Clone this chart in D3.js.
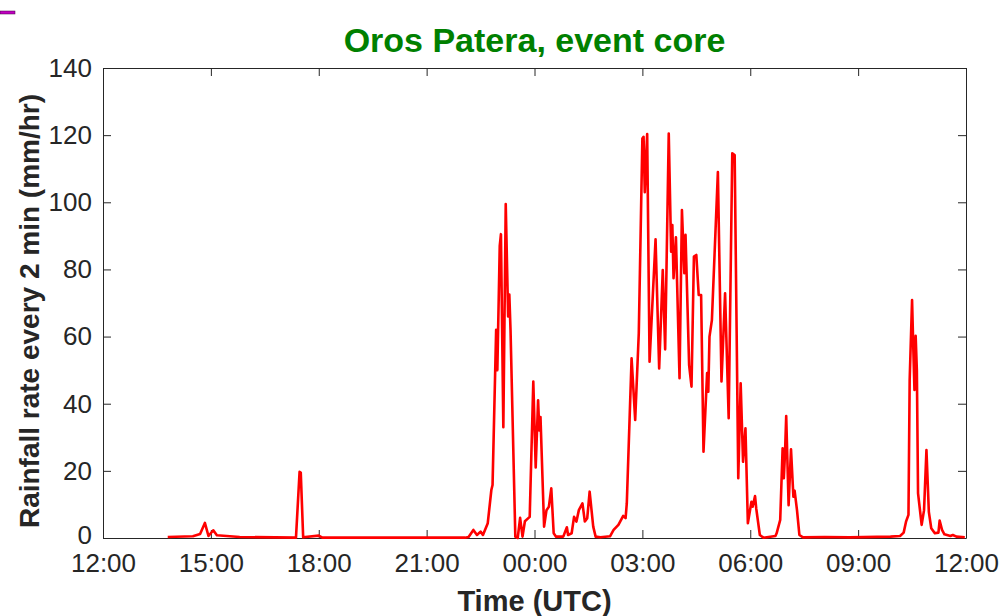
<!DOCTYPE html>
<html>
<head>
<meta charset="utf-8">
<script src="https://cdn.jsdelivr.net/npm/d3@7"></script>
<style>
  body { margin: 0; background: #fff; }
  svg { display: block; font-family: "Liberation Sans", Arial, Helvetica, sans-serif; }
</style>
</head>
<body>
<div id="chart"></div>
<script>
// 2-min rainfall rate (UTC clock times, 12:00 -> 12:00 next day)
var times = [
  "13:48", "14:30", "14:42", "14:50", "14:56", "15:04", "15:10", "15:48",
  "17:22", "17:28", "17:30", "17:34", "18:00", "18:06",
  "22:04", "22:10", "22:18", "22:24", "22:30", "22:34", "22:42", "22:48", "22:50",
  "22:56", "22:58", "23:02", "23:04", "23:08", "23:12", "23:16", "23:18", "23:20",
  "23:28", "23:32", "23:36", "23:40", "23:44", "23:52", "23:58",
  "00:02", "00:06", "00:08", "00:10", "00:16", "00:20", "00:24", "00:28", "00:32",
  "00:36", "00:48", "00:54", "00:56", "01:02", "01:06", "01:10", "01:14", "01:20",
  "01:24", "01:28", "01:32", "01:38", "01:42", "01:50",
  "02:06", "02:12", "02:20", "02:28", "02:32", "02:34", "02:42", "02:48", "02:54",
  "03:00", "03:02", "03:04", "03:08", "03:12", "03:22", "03:28", "03:34", "03:38",
  "03:44", "03:48", "03:50", "03:52", "03:56", "04:02", "04:06", "04:10", "04:12",
  "04:18", "04:22", "04:26", "04:30", "04:34", "04:38", "04:42", "04:48", "04:50",
  "04:52", "04:56", "05:06", "05:12", "05:18", "05:24", "05:30", "05:34", "05:40",
  "05:44", "05:48", "05:52", "05:56", "06:02", "06:04", "06:08", "06:10", "06:16",
  "06:22", "06:42", "06:44", "06:50", "06:54", "06:56", "06:58", "07:00", "07:04",
  "07:08", "07:12", "07:14", "07:18", "07:22", "07:28", "08:04", "08:46",
  "09:54", "10:10", "10:16", "10:20", "10:24", "10:26", "10:30", "10:32", "10:34",
  "10:36", "10:38", "10:40", "10:46", "10:50", "10:54", "10:58", "11:02", "11:08",
  "11:14", "11:16", "11:20", "11:24", "11:34", "11:38", "11:44", "11:58"
]
var rate = [
  0.3, 0.5, 1.2, 4.5, 0.6, 2.3, 0.8, 0.3,
  0.1, 19.7, 19.5, 0.2, 0.7, 0.1,
  0.1, 0.3, 2.4, 0.9, 1.9, 0.9, 4.4, 14.3, 15.8,
  62, 50, 87, 90.5, 33, 99.5, 66, 72.5, 62,
  0.4, 0, 6, 0.4, 5, 6.3, 46.6,
  21, 41, 32, 36, 3.4, 8.3, 9.3, 14.8, 1.4,
  0.4, 0.4, 3.2, 0.9, 1.4, 6.3, 4.9, 8.3, 10.3,
  4.9, 5.9, 13.8, 3.4, 0.4, 0.2,
  0.5, 2.4, 3.9, 6.6, 5.9, 10.3, 53.5, 35.2, 61,
  119, 119.5, 103, 120.3, 52.5, 89, 50.5, 79.8, 56.2,
  120.5, 85.3, 93.2, 77.4, 89.6, 47.6, 97.7, 78.9, 90.3,
  51.5, 45.1, 83.8, 84.3, 72.4, 72.4, 25.7, 49.1, 43.6,
  60, 64.9, 109, 46.6, 72.9, 35.7, 114.6, 114.1, 17.8,
  46.1, 22.7, 32.7, 4.4, 10.8, 9.3, 12.5, 8.8, 0.9,
  0.1, 0.6, 1.4, 5.4, 26.7, 17.8, 25.2, 36.3, 9.8,
  26.4, 12.3, 14.1, 8.3, 0.9, 0.2, 0.3, 0.2,
  0.4, 0.6, 1.6, 4.9, 6.9, 47, 70.9, 57, 44.1,
  60.2, 50, 13.3, 3.9, 8.3, 26.2, 7.8, 2.9, 1.4,
  1.6, 5.2, 2.4, 1.1, 0.6, 0.9, 0.4, 0.2
]
var yTicks = [0, 20, 40, 60, 80, 100, 120, 140]
var titleText = "Oros Patera, event core"
var xLabel = "Time (UTC)"
var yLabel = "Rainfall rate every 2 min (mm/hr)"

var width = 1004, height = 616
var margin = {top: 68, right: 38, bottom: 78, left: 103}
var axisColor = "#262626"

// clock string -> Date; hours before noon belong to the next day
function to_date(s) {
  var h = +s.slice(0, 2), m = +s.slice(3, 5)
  return new Date(Date.UTC(2000, 0, h < 12 ? 2 : 1, h, m))
}

function draw() {
  var data = times.map(function(t, i) { return {t: to_date(t), v: rate[i]} })

  var svg = d3.select("#chart").append("svg")
    .attr("width", width).attr("height", height)

  var x = d3.scaleUtc()
    .domain([new Date(Date.UTC(2000, 0, 1, 12)), new Date(Date.UTC(2000, 0, 2, 12))])
    .range([margin.left, width - margin.right])
  var y = d3.scaleLinear()
    .domain([0, 140])
    .range([height - margin.bottom, margin.top])

  var xTicks = d3.utcHour.every(3).range(x.domain()[0], new Date(+x.domain()[1] + 1))
  var fmt = d3.utcFormat("%H:%M")
  var tl = 8

  // box axes, ticks pointing inward on all four sides
  var bottom = svg.append("g")
    .attr("transform", "translate(0," + y(0) + ")")
    .call(d3.axisBottom(x).tickValues(xTicks).tickFormat(fmt).tickSizeInner(-tl).tickSizeOuter(0).tickPadding(16))
  var top = svg.append("g")
    .attr("transform", "translate(0," + y(140) + ")")
    .call(d3.axisTop(x).tickValues(xTicks).tickFormat("").tickSizeInner(-tl).tickSizeOuter(0))

  var left = svg.append("g")
    .attr("transform", "translate(" + x.range()[0] + ",0)")
    .call(d3.axisLeft(y).tickValues(yTicks).tickSizeInner(-tl).tickSizeOuter(0).tickPadding(11))
  var right = svg.append("g")
    .attr("transform", "translate(" + x.range()[1] + ",0)")
    .call(d3.axisRight(y).tickValues(yTicks).tickFormat("").tickSizeInner(-tl).tickSizeOuter(0))

  ;[bottom, top, left, right].forEach(function(g) {
    g.selectAll(".domain").attr("stroke", axisColor).attr("stroke-width", 1)
    g.selectAll(".tick line").attr("stroke", axisColor).attr("stroke-width", 1)
    g.selectAll(".tick text").attr("fill", axisColor).attr("font-size", 26)
  })
  // keep the "0" label clear of the first time label
  left.selectAll(".tick text").filter(function(d) { return d === 0 }).attr("dy", "0.2em")

  var line = d3.line()
    .x(function(d) { return x(d.t) })
    .y(function(d) { return y(d.v) })

  svg.append("path")
    .datum(data)
    .attr("fill", "none")
    .attr("stroke", "#ff0000")
    .attr("stroke-width", 2.6)
    .attr("stroke-linejoin", "round")
    .attr("d", line)

  svg.append("text")
    .attr("x", (x.range()[0] + x.range()[1]) / 2)
    .attr("y", 52)
    .attr("text-anchor", "middle")
    .attr("font-size", 34)
    .attr("font-weight", "bold")
    .attr("fill", "#008000")
    .text(titleText)

  svg.append("text")
    .attr("x", (x.range()[0] + x.range()[1]) / 2)
    .attr("y", 611)
    .attr("text-anchor", "middle")
    .attr("font-size", 29)
    .attr("font-weight", "bold")
    .attr("fill", axisColor)
    .text(xLabel)

  svg.append("text")
    .attr("transform", "translate(39," + ((y(0) + y(140)) / 2 + 8) + ") rotate(-90)")
    .attr("text-anchor", "middle")
    .attr("font-size", 28)
    .attr("font-weight", "bold")
    .attr("fill", axisColor)
    .text(yLabel)

  // small magenta stub in the top-left corner of the reference
  svg.append("rect")
    .attr("x", 0).attr("y", 11).attr("width", 15).attr("height", 3)
    .attr("fill", "#c000c0")
    .attr("stroke", "#400040").attr("stroke-width", 0.5)
}

draw()
</script>
</body>
</html>
